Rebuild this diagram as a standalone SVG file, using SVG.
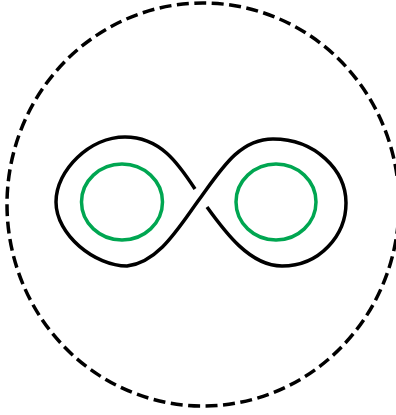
<svg xmlns="http://www.w3.org/2000/svg" width="396" height="415" viewBox="0 0 396 415">
<style>
.k{fill:none;stroke:#000;stroke-width:3.5;stroke-linecap:butt}
.g{fill:none;stroke:#00a651;stroke-width:3.5}
.d{fill:none;stroke:#000;stroke-width:3.5;stroke-dasharray:12 5.5}
</style>
<rect width="396" height="415" fill="#fff"/>
<ellipse id="boundary" class="d" cx="203" cy="204.5" rx="196" ry="201.5"/>
<g id="knot">
<path class="k" d="M 207 207 C 225 232, 250 266, 282 266 C 320 266, 346 235, 346 203 C 346 170, 315 139, 273 139 C 240 139, 222 168, 201 197 C 180 225, 160 262, 127 266 C 95 266, 56 235, 56 202 C 56 170, 90 137, 125 137 C 160 137, 178 163, 195 189"/>
</g>
<g id="hole-left"><ellipse class="g" cx="122" cy="202" rx="40.5" ry="38"/></g>
<g id="hole-right"><ellipse class="g" cx="276" cy="202" rx="40" ry="38"/></g>
</svg>
